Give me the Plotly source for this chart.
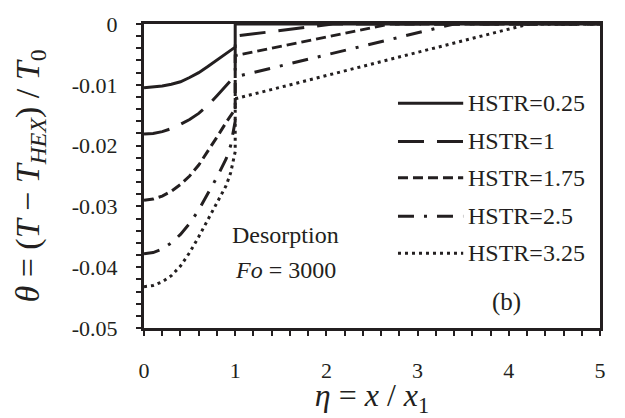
import plotly.graph_objects as go

# ---- data ----
eta_left = [0.0, 0.1, 0.2, 0.3, 0.4, 0.5, 0.6, 0.7, 0.8, 0.9, 0.95, 1.0]

hstr_labels = ["HSTR=0.25", "HSTR=1", "HSTR=1.75", "HSTR=2.5", "HSTR=3.25"]

theta_left_025 = [-0.0105, -0.0104, -0.0102, -0.0099, -0.0095, -0.0088, -0.0080, -0.0070, -0.0059, -0.0049, -0.0044, -0.0038]
theta_left_100 = [-0.0181, -0.0180, -0.0177, -0.0172, -0.0165, -0.0157, -0.0147, -0.0134, -0.0118, -0.0102, -0.0094, -0.0085]
theta_left_175 = [-0.0290, -0.0288, -0.0283, -0.0275, -0.0264, -0.0250, -0.0232, -0.0210, -0.0186, -0.0162, -0.0151, -0.0140]
theta_left_250 = [-0.0378, -0.0376, -0.0370, -0.0360, -0.0346, -0.0328, -0.0306, -0.0280, -0.0252, -0.0222, -0.0200, -0.0160]
theta_left_325 = [-0.0432, -0.0430, -0.0424, -0.0414, -0.0398, -0.0376, -0.0350, -0.0322, -0.0294, -0.0266, -0.0245, -0.0210]

# right branch: value just after eta=1, and eta where theta reaches 0
theta_right_start = [0.0, -0.0020, -0.0052, -0.0087, -0.0123]
eta_reach_zero = [1.0, 2.07, 2.70, 3.40, 4.22]

x_ticks = [0, 1, 2, 3, 4, 5]
x_ticktext = ["0", "1", "2", "3", "4", "5"]
y_ticks = [0, -0.01, -0.02, -0.03, -0.04, -0.05]
y_ticktext = ["0", "-0.01", "-0.02", "-0.03", "-0.04", "-0.05"]

# ---- styles ----
INK = "#231f20"
FONT = "Liberation Serif"
dashes = ["solid", "26px,13px", "10px,5px", "16px,10px,3px,10px", "3px,4px"]

left_sets = [theta_left_025, theta_left_100, theta_left_175, theta_left_250, theta_left_325]

fig = go.Figure()
for i, lab in enumerate(hstr_labels):
    xs = list(eta_left) + [1.0]
    ys = list(left_sets[i]) + [theta_right_start[i]]
    if eta_reach_zero[i] > 1.0:
        xs += [eta_reach_zero[i]]
        ys += [0.0]
    xs += [5.0]
    ys += [0.0]
    fig.add_trace(go.Scatter(x=xs, y=ys, mode="lines", name=lab, showlegend=False,
                             line=dict(color=INK, width=3, dash=dashes[i])))

# custom legend (long line samples like the reference)
leg_y = [0.7395, 0.6138, 0.494, 0.368, 0.2455]
for i, lab in enumerate(hstr_labels):
    fig.add_shape(type="line", xref="paper", yref="paper", x0=0.557, x1=0.7, y0=leg_y[i], y1=leg_y[i],
                  line=dict(color=INK, width=3, dash=dashes[i]))
    fig.add_annotation(xref="paper", yref="paper", x=0.706, y=leg_y[i], text=lab, showarrow=False,
                       xanchor="left", yanchor="middle", font=dict(family=FONT, size=24, color=INK))

fig.add_annotation(xref="paper", yref="paper", x=0.311, y=0.305, text="Desorption", showarrow=False,
                   xanchor="center", yanchor="middle", font=dict(family=FONT, size=24, color=INK))
fig.add_annotation(xref="paper", yref="paper", x=0.311, y=0.19, text="<i>Fo</i> = 3000", showarrow=False,
                   xanchor="center", yanchor="middle", font=dict(family=FONT, size=24, color=INK))
fig.add_annotation(xref="paper", yref="paper", x=0.796, y=0.084, text="(b)", showarrow=False,
                   xanchor="center", yanchor="middle", font=dict(family=FONT, size=25, color=INK))

axis_common = dict(showline=True, linecolor=INK, linewidth=3, mirror=True, showgrid=False,
                   zeroline=False, ticks="outside", ticklen=5, tickwidth=2, tickcolor=INK,
                   tickfont=dict(family=FONT, size=22, color=INK))

fig.update_xaxes(range=[0, 5], tickvals=x_ticks, ticktext=x_ticktext,
                 minor=dict(dtick=0.2, ticks="outside", ticklen=5, tickwidth=2, tickcolor=INK),
                 ticklabelstandoff=16,
                 title=dict(text="<i>η</i> = <i>x</i> / <i>x</i><sub>1</sub>",
                            font=dict(family=FONT, size=32, color=INK), standoff=0),
                 **axis_common)
fig.update_yaxes(range=[-0.05, 0], tickvals=y_ticks, ticktext=y_ticktext,
                 minor=dict(dtick=0.002, ticks="outside", ticklen=5, tickwidth=2, tickcolor=INK),
                 ticklabelstandoff=14,
                 title=dict(text="<i>θ</i> = (<i>T</i> − <i>T</i><sub><i>HEX</i></sub>) / <i>T</i><sub>0</sub>",
                            font=dict(family=FONT, size=34, color=INK), standoff=22),
                 **axis_common)

fig.update_layout(width=625, height=418, margin=dict(l=144, r=25, t=13, b=71),
                  paper_bgcolor="white", plot_bgcolor="white", showlegend=False,
                  font=dict(family=FONT, color=INK))

fig.write_html("out.html")
